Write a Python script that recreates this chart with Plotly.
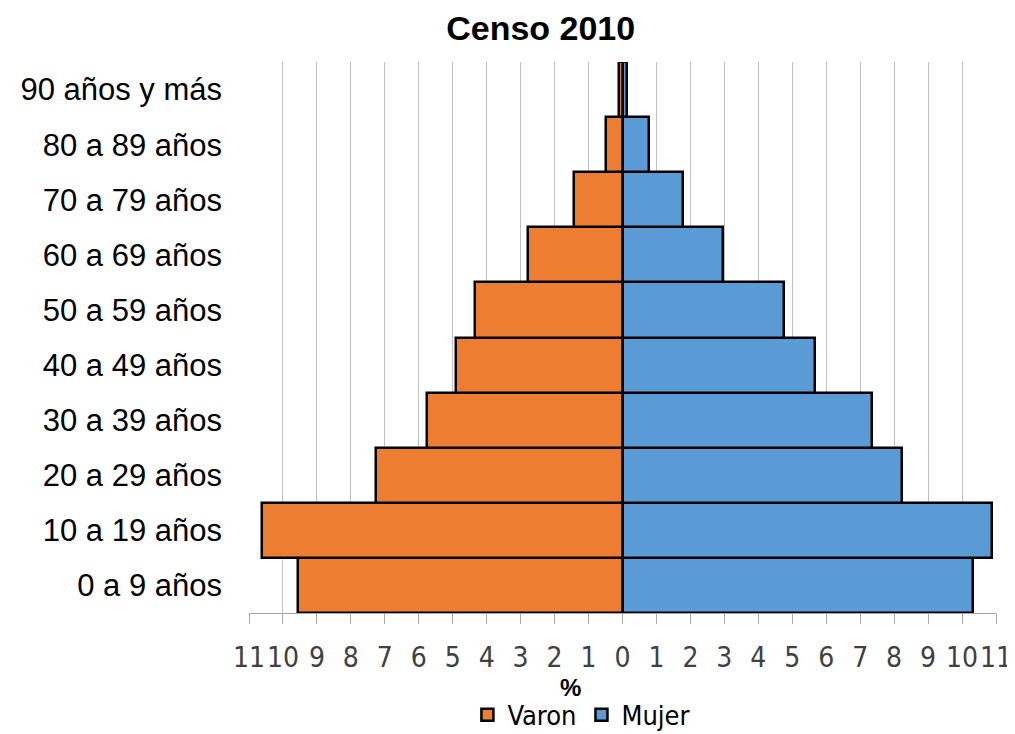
import plotly.graph_objects as go

# datos de la piramide (porcentaje de poblacion por grupo de edad)
grupos = ["0 a 9 años", "10 a 19 años", "20 a 29 años", "30 a 39 años",
          "40 a 49 años", "50 a 59 años", "60 a 69 años", "70 a 79 años",
          "80 a 89 años", "90 años y más"]
varon = [9.57, 10.63, 7.26, 5.76, 4.89, 4.33, 2.79, 1.43, 0.49, 0.10]
mujer = [10.31, 10.87, 8.23, 7.36, 5.67, 4.76, 2.97, 1.79, 0.78, 0.12]
ticks = list(range(-11, 12))
tick_text = [str(abs(t)) for t in ticks]

naranja = "#ED7D31"
azul = "#5B9BD5"
fuente_narrow = "Liberation Sans Narrow, DejaVu Sans Condensed, Arial Narrow, sans-serif"
fuente = "Liberation Sans, Arial, sans-serif"

fig = go.Figure()

fig.add_trace(go.Bar(
    y=grupos, x=[-v for v in varon], name="Varon", orientation="h",
    marker=dict(color=naranja, line=dict(color="black", width=2.5)),
    customdata=varon, hovertemplate="%{y}: %{customdata}%<extra>Varon</extra>"))

fig.add_trace(go.Bar(
    y=grupos, x=mujer, name="Mujer", orientation="h",
    marker=dict(color=azul, line=dict(color="black", width=2.5)),
    customdata=mujer, hovertemplate="%{y}: %{customdata}%<extra>Mujer</extra>"))

# la pagina deja 8px de margen en el body, por eso el tamaño reducido
fig.update_layout(
    width=1007, height=726,
    barmode="relative", bargap=0,
    plot_bgcolor="white", paper_bgcolor="white",
    margin=dict(l=241, r=19, t=54, b=121),
    title=dict(text="<b>Censo 2010</b>", x=0.529, xanchor="center",
               y=0.972, yanchor="middle",
               font=dict(family=fuente, size=34, color="black")),
    legend=dict(orientation="h", x=0.445, xanchor="center",
                yref="container", y=0.026, yanchor="middle",
                font=dict(family=fuente_narrow, size=27, color="black"),
                itemwidth=30, traceorder="normal"),
    annotations=[dict(text="<b>%</b>", xref="paper", yref="paper",
                      x=0.43, y=-0.136, showarrow=False, yanchor="middle",
                      font=dict(family=fuente, size=24, color="black"))],
)

fig.update_xaxes(
    range=[-11, 11], tickvals=ticks, ticktext=tick_text,
    showgrid=True, gridcolor="#BFBFBF", gridwidth=1, zeroline=False,
    showline=True, linecolor="#A6A6A6", linewidth=1,
    ticks="outside", ticklen=10, tickcolor="#A6A6A6",
    ticklabelstandoff=9, tickangle=0, automargin=False,
    tickfont=dict(family=fuente_narrow, size=28, color="#404040"),
)

fig.update_yaxes(
    categoryorder="array", categoryarray=grupos,
    showgrid=False, zeroline=False, showline=False,
    ticks="", ticklabelstandoff=26, automargin=False,
    tickfont=dict(family=fuente, size=31, color="black"),
)

fig.write_html("out.html")
